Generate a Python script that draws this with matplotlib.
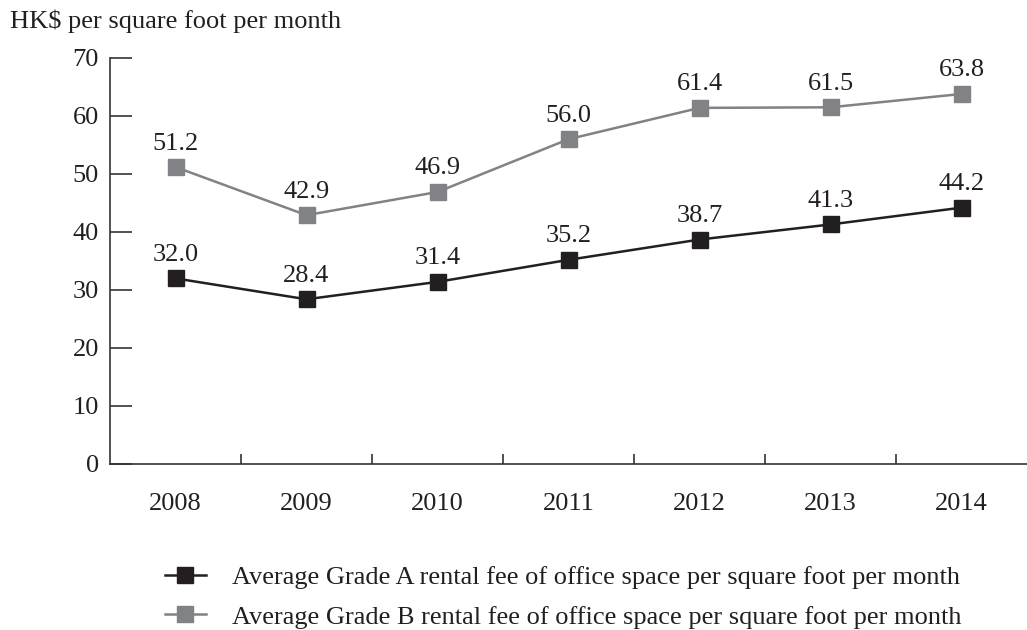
import numpy as np
import matplotlib
matplotlib.use("Agg")
import matplotlib.pyplot as plt

years = ["2008", "2009", "2010", "2011", "2012", "2013", "2014"]
grade_a = [32.0, 28.4, 31.4, 35.2, 38.7, 41.3, 44.2]
grade_b = [51.2, 42.9, 46.9, 56.0, 61.4, 61.5, 63.8]
label_a = "Average Grade A rental fee of office space per square foot per month"
label_b = "Average Grade B rental fee of office space per square foot per month"

plt.rcParams["font.family"] = ["Liberation Serif", "DejaVu Serif"]
fs = 19
dark = "#231f20"
grey = "#808285"

fig = plt.figure(figsize=(10.27, 6.3), dpi=100)
ax = fig.add_axes([110 / 1027, 1 - 464 / 630, 917 / 1027, (464 - 58) / 630])

x = np.arange(len(years))
ax.plot(x, grade_a, color=dark, lw=1.8, marker="s", ms=12, label=label_a)
ax.plot(x, grade_b, color=grey, lw=1.8, marker="s", ms=12, label=label_b)

for xi, v in zip(x, grade_a):
    ax.annotate(f"{v:.1f}", (xi, v), xytext=(0, 9), textcoords="offset points",
                ha="center", va="bottom", fontsize=fs, color=dark)
for xi, v in zip(x, grade_b):
    ax.annotate(f"{v:.1f}", (xi, v), xytext=(0, 9), textcoords="offset points",
                ha="center", va="bottom", fontsize=fs, color=dark)

ax.set_xlim(-0.5, len(years) - 0.5)
ax.set_ylim(0, 70)
ax.set_yticks(range(0, 71, 10))
ax.tick_params(axis="y", direction="in", length=16, width=1.2, color="#333333",
               labelsize=fs, labelcolor=dark, pad=8)
ax.set_xticks(x)
ax.set_xticklabels(years)
ax.tick_params(axis="x", which="major", length=0, labelsize=fs, labelcolor=dark, pad=21)
ax.set_xticks(np.arange(0.5, len(years) - 0.5, 1), minor=True)
ax.tick_params(axis="x", which="minor", direction="in", length=7, width=1.2, color="#333333")

for s in ["top", "right"]:
    ax.spines[s].set_visible(False)
for s in ["left", "bottom"]:
    ax.spines[s].set_color("#333333")
    ax.spines[s].set_linewidth(1.2)

fig.text(10 / 1027, 1 - 21 / 630, "HK\\$ per square foot per month", fontsize=fs,
         color=dark, va="center", ha="left")

fig.legend(loc="upper left", bbox_to_anchor=(141 / 1027, 1 - 542 / 630), frameon=False,
           fontsize=fs, handlelength=1.55, handletextpad=1.0, labelspacing=0.6,
           markerscale=0.95, labelcolor=dark)

fig.savefig("out.png", dpi=100)
